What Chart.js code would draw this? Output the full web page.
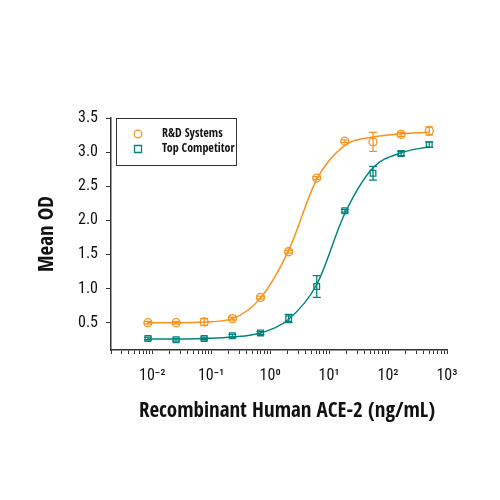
<!DOCTYPE html>
<html>
<head>
<meta charset="utf-8">
<script src="https://cdn.jsdelivr.net/npm/chart.js@4"></script>
<style>
  body { margin: 0; background: #fff; }
  #wrap { width: 500px; height: 500px; }
</style>
</head>
<body>
<div id="wrap"><canvas id="chart" width="500" height="500"></canvas></div>
<script>
const TITLE_FONT = "'Open Sans Condensed', 'Roboto Condensed', sans-serif";
const TICK_FONT = "'Roboto Condensed', 'Open Sans Condensed', sans-serif";

// concentrations (ng/mL), 3-fold dilution
const conc = [0.00847, 0.0254, 0.0762, 0.229, 0.686, 2.06, 6.17, 18.5, 55.6, 166.7, 500];

// measured mean OD
const rdValues = [0.50, 0.50, 0.51, 0.56, 0.87, 1.54, 2.62, 3.16, 3.15, 3.26, 3.31];
const rdErrors = [0.02, 0.02, 0.05, 0.02, 0.02, 0.02, 0.02, 0.02, 0.14, 0.03, 0.06];
const compValues = [0.27, 0.25, 0.27, 0.31, 0.35, 0.56, 1.03, 2.14, 2.69, 2.98, 3.11];
const compErrors = [0.02, 0.02, 0.02, 0.02, 0.02, 0.06, 0.16, 0.02, 0.10, 0.03, 0.04];

// fitted curve at the same concentrations
const rdFit = [0.50, 0.50, 0.51, 0.56, 0.86, 1.56, 2.60, 3.10, 3.22, 3.27, 3.29];
const compFit = [0.26, 0.26, 0.27, 0.29, 0.35, 0.55, 1.06, 2.10, 2.77, 2.99, 3.08];

const yTicks = [0.5, 1.0, 1.5, 2.0, 2.5, 3.0, 3.5];
const xDecades = [-2, -1, 0, 1, 2, 3];
const xTitle = "Recombinant Human ACE-2 (ng/mL)";

const orange = "#F7931E";
const teal = "#00857E";

const sup = { "-": "\u207B", "0": "\u2070", "1": "\u00B9", "2": "\u00B2", "3": "\u00B3" };
function powLabel(p) {
  return "10" + String(p).split("").map(c => sup[c]).join("");
}

function pts(ys) {
  return conc.map((x, i) => ({ x: x, y: ys[i] }));
}

// error bars
const errorBars = {
  id: "errorBars",
  afterDatasetsDraw(chart) {
    const ctx = chart.ctx;
    const xs = chart.scales.x, ys = chart.scales.y;
    [[rdValues, rdErrors, orange], [compValues, compErrors, teal]].forEach(([vals, errs, col]) => {
      ctx.save();
      ctx.strokeStyle = col;
      ctx.lineWidth = 1.3;
      vals.forEach((v, i) => {
        const px = xs.getPixelForValue(conc[i]);
        const top = ys.getPixelForValue(v + errs[i]);
        const bot = ys.getPixelForValue(v - errs[i]);
        ctx.beginPath();
        ctx.moveTo(px, top); ctx.lineTo(px, bot);
        ctx.moveTo(px - 4, top); ctx.lineTo(px + 4, top);
        ctx.moveTo(px - 4, bot); ctx.lineTo(px + 4, bot);
        ctx.stroke();
      });
      ctx.restore();
    });
  }
};

// boxed legend in the top-left corner of the plot, plus the x title
const boxLegend = {
  id: "boxLegend",
  afterDraw(chart) {
    const ctx = chart.ctx;
    const a = chart.chartArea;
    const x0 = a.left + 5, y0 = a.top, w = 120, h = 47;
    ctx.save();
    ctx.strokeStyle = "#333";
    ctx.lineWidth = 1;
    ctx.strokeRect(x0 + 0.5, y0 + 0.5, w, h);
    ctx.font = "bold 12px " + TITLE_FONT;
    ctx.textBaseline = "middle";
    ctx.fillStyle = "#111";
    const items = chart.data.datasets.filter(d => d.showInBox);
    items.forEach((d, i) => {
      const cy = y0 + 16 + i * 15;
      const cx = x0 + 22;
      ctx.strokeStyle = d.borderColor;
      ctx.lineWidth = 1.3;
      ctx.beginPath();
      if (d.pointStyle === "rect") {
        ctx.rect(cx - 3.5, cy - 3.5, 7, 7);
      } else {
        ctx.arc(cx, cy, 3.8, 0, Math.PI * 2);
      }
      ctx.stroke();
      ctx.fillText(d.label, x0 + 46, cy);
    });

    // x axis title sits a little right of the plot centre in the original
    ctx.font = "bold 21px " + TITLE_FONT;
    ctx.textAlign = "center";
    ctx.fillText(xTitle, (a.left + a.right) / 2 + 8, 412);
    ctx.restore();
  }
};

new Chart(document.getElementById("chart"), {
  type: "scatter",
  data: {
    datasets: [
      {
        label: "R&D Systems fit",
        data: pts(rdFit),
        showLine: true,
        borderColor: orange,
        borderWidth: 1.5,
        pointRadius: 0,
        cubicInterpolationMode: "monotone"
      },
      {
        label: "Top Competitor fit",
        data: pts(compFit),
        showLine: true,
        borderColor: teal,
        borderWidth: 1.5,
        pointRadius: 0,
        cubicInterpolationMode: "monotone"
      },
      {
        label: "R&D Systems",
        showInBox: true,
        data: pts(rdValues),
        borderColor: orange,
        backgroundColor: "rgba(255,255,255,0)",
        pointStyle: "circle",
        pointRadius: 4,
        pointBorderWidth: 1.3
      },
      {
        label: "Top Competitor",
        showInBox: true,
        data: pts(compValues),
        borderColor: teal,
        backgroundColor: "rgba(255,255,255,0)",
        pointStyle: "rect",
        pointRadius: 4,
        pointBorderWidth: 1.3
      }
    ]
  },
  options: {
    responsive: false,
    animation: false,
    layout: { padding: { left: 35, top: 118, right: 53, bottom: 75 } },
    plugins: {
      legend: { display: false },
      tooltip: { enabled: false }
    },
    scales: {
      x: {
        type: "logarithmic",
        min: 0.002,
        max: 1000,
        afterFit: s => { s.height = 75; },
        afterBuildTicks: s => {
          const t = [];
          for (let p = -3; p <= 2; p++) {
            for (let m = 1; m <= 9; m++) {
              const v = m * Math.pow(10, p);
              if (v >= 0.002 && v <= 1000) t.push({ value: v });
            }
          }
          t.push({ value: 1000 });
          s.ticks = t;
        },
        ticks: {
          autoSkip: false,
          maxRotation: 0,
          padding: 12,
          color: "#111",
          font: { family: TICK_FONT, size: 16 },
          callback: function (v) {
            const p = Math.round(Math.log10(v));
            if (Math.abs(Math.log10(v) - p) < 1e-6 && xDecades.includes(p)) return powLabel(p);
            return "";
          }
        },
        grid: { drawOnChartArea: false, tickLength: 4, color: "#333" },
        border: { color: "#333", width: 1.5 },
        title: { display: false }
      },
      y: {
        min: 0.1,
        max: 3.5,
        afterFit: s => { s.width = 76; },
        afterBuildTicks: s => { s.ticks = yTicks.map(v => ({ value: v })); },
        ticks: {
          padding: 8,
          color: "#111",
          font: { family: TICK_FONT, size: 16 },
          callback: v => v.toFixed(1)
        },
        grid: { drawOnChartArea: false, tickLength: 5, color: "#333" },
        border: { color: "#333", width: 1.5 },
        title: {
          display: true,
          text: "Mean OD",
          color: "#111",
          padding: 0,
          font: { family: TITLE_FONT, size: 21, weight: "bold" }
        }
      }
    }
  },
  plugins: [errorBars, boxLegend]
});
</script>
</body>
</html>
